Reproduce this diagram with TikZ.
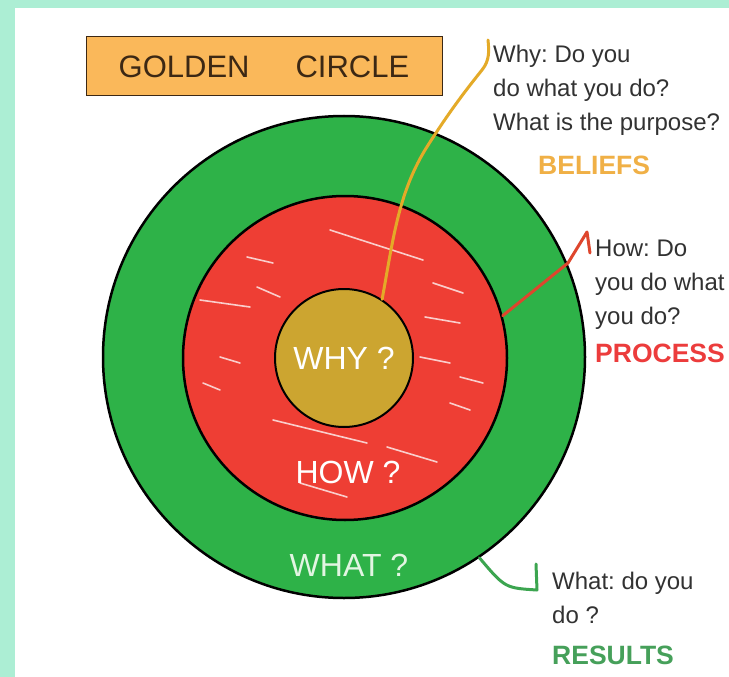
\documentclass[tikz,border=0pt]{standalone}
\usepackage{fontspec}
\setmainfont{Liberation Sans}
\usetikzlibrary{positioning,calc}
\frenchspacing

\definecolor{mint}{RGB}{172,238,212}
\definecolor{ringgreen}{RGB}{46,178,72}
\definecolor{ringred}{RGB}{238,62,52}
\definecolor{coregold}{RGB}{204,165,48}
\definecolor{boxorange}{RGB}{250,184,90}
\definecolor{inkbrown}{RGB}{60,40,20}
\definecolor{labelgrey}{RGB}{50,50,50}
\definecolor{beliefsorange}{RGB}{240,176,70}
\definecolor{processred}{RGB}{236,60,60}
\definecolor{resultsgreen}{RGB}{70,160,90}
\definecolor{whyline}{RGB}{228,170,40}
\definecolor{howline}{RGB}{222,70,45}
\definecolor{whatline}{RGB}{60,165,80}
\definecolor{whattext}{RGB}{226,245,226}

\begin{document}
\begin{tikzpicture}[x=1pt, y=-1pt,
  ring/.style={circle, draw=black, inner sep=0pt},
  ringtext/.style={text=white, font=\fontsize{32}{32}\selectfont},
  note/.style={anchor=north west, align=left, inner sep=0pt, text=labelgrey, font=\fontsize{24}{34}\selectfont},
  keyword/.style={anchor=base west, inner sep=0pt, font=\fontsize{26.5}{26.5}\selectfont\bfseries},
  streak/.style={white, opacity=0.75, line width=1.6pt, line cap=round},
  leader/.style={line width=3pt, line cap=round, line join=round}]

  % Canvas
  \useasboundingbox (0,0) rectangle (729,677);
  \clip (0,0) rectangle (729,677);
  \fill[mint] (0,0) rectangle (729,677);
  \fill[white] (15,8) rectangle (729,677);

  % Title box
  \node[draw=inkbrown, fill=boxorange, line width=1pt, minimum width=356pt, minimum height=59pt, inner sep=0pt] (titlebox) at (264,66.5) {};
  \node[text=inkbrown, font=\fontsize{31}{31}\selectfont] (title) at (titlebox.center) {GOLDEN\hspace{46pt}CIRCLE};

  % Rings
  \node[ring, fill=ringgreen, line width=2.5pt, minimum size=482pt] (what) at (344,357) {};
  \node[ring, fill=ringred, line width=2.5pt, minimum size=324pt] (how) at (345,358) {};
  % chalk streaks on the red ring
  \foreach \xa/\ya/\xb/\yb in {330/230/423/260, 247/257/273/263, 200/300/250/307,
      257/287/280/297, 433/283/463/293, 425/317/460/323, 420/357/450/363,
      460/377/483/383, 203/383/220/390, 273/420/367/443, 387/447/437/462,
      300/483/347/497, 450/403/470/410, 220/357/240/363}
    \draw[streak] (\xa,\ya) -- (\xb,\yb);
  \node[ring, fill=coregold, line width=2pt, minimum size=138pt, ringtext] (why) at (344,358) {WHY ?};
  \node[ringtext] (howtxt) at (348,472) {HOW ?};
  \node[ringtext, text=whattext] (whattxt) at (349,565) {WHAT ?};

  % Notes
  \node[note] (whynote) at (493,45) {Why: Do you\\do what you do?\\What is the purpose?};
  \node[keyword, text=beliefsorange] (beliefs) at (538,174) {BELIEFS};
  \node[note] (hownote) at (595,240) {How: Do\\you do what\\you do?};
  \node[keyword, text=processred] (process) at (595,362) {PROCESS};
  \node[note] (whatnote) at (552,572) {What: do you\\do ?};
  \node[keyword, text=resultsgreen] (results) at (552,664) {RESULTS};

  % Leaders
  \coordinate (whytick) at (482,70);
  \draw[leader, whyline] (why.57) .. controls (393,240) and (398,195) .. (425,150)
    .. controls (450,110) and (470,85) .. (whytick)
    .. controls (490,60) and (489,50) .. ([xshift=-5pt,yshift=5pt]whynote.north west);
  \coordinate (howtip) at (587,232);
  \draw[leader, howline] (how.15) -- (568,263) -- (howtip)
    -- ([xshift=-5pt,yshift=-13pt]hownote.north west);
  \coordinate (whatbend) at (537,590);
  \draw[leader, whatline] (what.-56) .. controls (505,588) .. (whatbend)
    -- ([xshift=-16pt,yshift=8pt]whatnote.north west);
\end{tikzpicture}
\end{document}
